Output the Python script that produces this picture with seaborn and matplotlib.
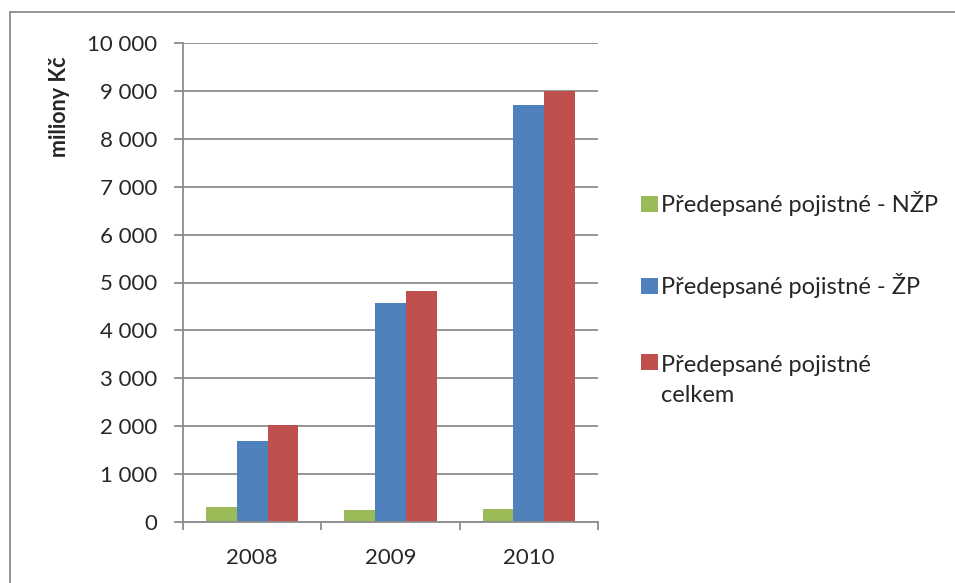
import matplotlib
matplotlib.use("Agg")
import matplotlib.pyplot as plt
from matplotlib.lines import Line2D
from matplotlib.patches import Patch, Rectangle
from matplotlib.legend_handler import HandlerPatch
import seaborn as sns
import pandas as pd

years = ["2008", "2009", "2010"]
series_names = [
    "Předepsané pojistné - NŽP",
    "Předepsané pojistné - ŽP",
    "Předepsané pojistné\ncelkem",
]
nzp = [310, 250, 280]
zp = [1700, 4565, 8705]
celkem = [2025, 4825, 9000]
ytick_values = [0, 1000, 2000, 3000, 4000, 5000, 6000, 7000, 8000, 9000, 10000]
ytick_labels = ["0", "1 000", "2 000", "3 000", "4 000", "5 000",
                "6 000", "7 000", "8 000", "9 000", "10 000"]
y_label = "miliony Kč"
colors = ["#9BBB59", "#4F81BD", "#C0504D"]

df = pd.DataFrame({
    "rok": years * 3,
    "serie": [series_names[0]] * 3 + [series_names[1]] * 3 + [series_names[2]] * 3,
    "hodnota": nzp + zp + celkem,
})

sns.set_style("white")
plt.rcParams["font.family"] = ["Lato", "DejaVu Sans"]

TICK_FS = 16
LEG_FS = 17
LEG_LS = 1.55

fig = plt.figure(figsize=(9.55, 5.83), dpi=100)
ax = fig.add_axes([183 / 955, 61 / 583, 415 / 955, 479 / 583])

sns.barplot(data=df, x="rok", y="hodnota", hue="serie", palette=colors,
            width=0.667, gap=0, saturation=1, ax=ax, legend=False,
            edgecolor="none", linewidth=0)

grid_col = "#8c8c8c"
ax.set_ylim(0, 10000)
ax.set_xlim(-0.5, 2.5)
ax.set_yticks(ytick_values)
ax.set_yticklabels(ytick_labels)
ax.yaxis.grid(True, color=grid_col, linewidth=1.3)
ax.xaxis.grid(False)
ax.set_axisbelow(True)
for s in ["top", "right"]:
    ax.spines[s].set_visible(False)
for s in ["left", "bottom"]:
    ax.spines[s].set_color(grid_col)
    ax.spines[s].set_linewidth(1.3)

ax.tick_params(axis="y", which="major", length=6.5, width=1.3, color=grid_col,
               pad=12, labelsize=TICK_FS, left=True)
ax.set_xticks([-0.5, 0.5, 1.5, 2.5], minor=True)
ax.tick_params(axis="x", which="minor", length=6, width=1.3, color=grid_col,
               bottom=True)
ax.tick_params(axis="x", which="major", length=0, pad=19, labelsize=TICK_FS)
ax.set_xlabel("")
ax.set_ylabel("")

fig.text(59 / 955, 1 - 107 / 583, y_label, rotation=90, fontsize=15.5,
         fontweight="bold", ha="center", va="center")


class TopLineHandler(HandlerPatch):
    """Square swatch aligned with the first line of a two-line label."""

    def create_artists(self, legend, orig_handle, xdescent, ydescent,
                       width, height, fontsize, trans):
        shift = 0.5 * LEG_LS * fontsize
        p = Rectangle((-xdescent, -ydescent + shift), width, height,
                      facecolor=orig_handle.get_facecolor(), edgecolor="none",
                      transform=trans)
        return [p]


handles = [Patch(facecolor=c, edgecolor="none") for c in colors]
leg = fig.legend(handles, series_names, loc="upper left",
                 bbox_to_anchor=(632 / 955, 1 - 182 / 583), frameon=False,
                 fontsize=LEG_FS, handlelength=0.68, handleheight=0.68,
                 handletextpad=0.15, labelspacing=2.4, borderaxespad=0,
                 handler_map={handles[2]: TopLineHandler()})
for t in leg.get_texts():
    t.set_linespacing(LEG_LS)

# outer chart frame (top and left edges)
fig.add_artist(Line2D([10 / 955, 1.0], [1 - 12 / 583, 1 - 12 / 583],
                      transform=fig.transFigure, color="#8c8c8c", linewidth=1.3))
fig.add_artist(Line2D([10 / 955, 10 / 955], [0.0, 1 - 12 / 583],
                      transform=fig.transFigure, color="#8c8c8c", linewidth=1.3))

fig.savefig("out.png", dpi=100, facecolor="white")
